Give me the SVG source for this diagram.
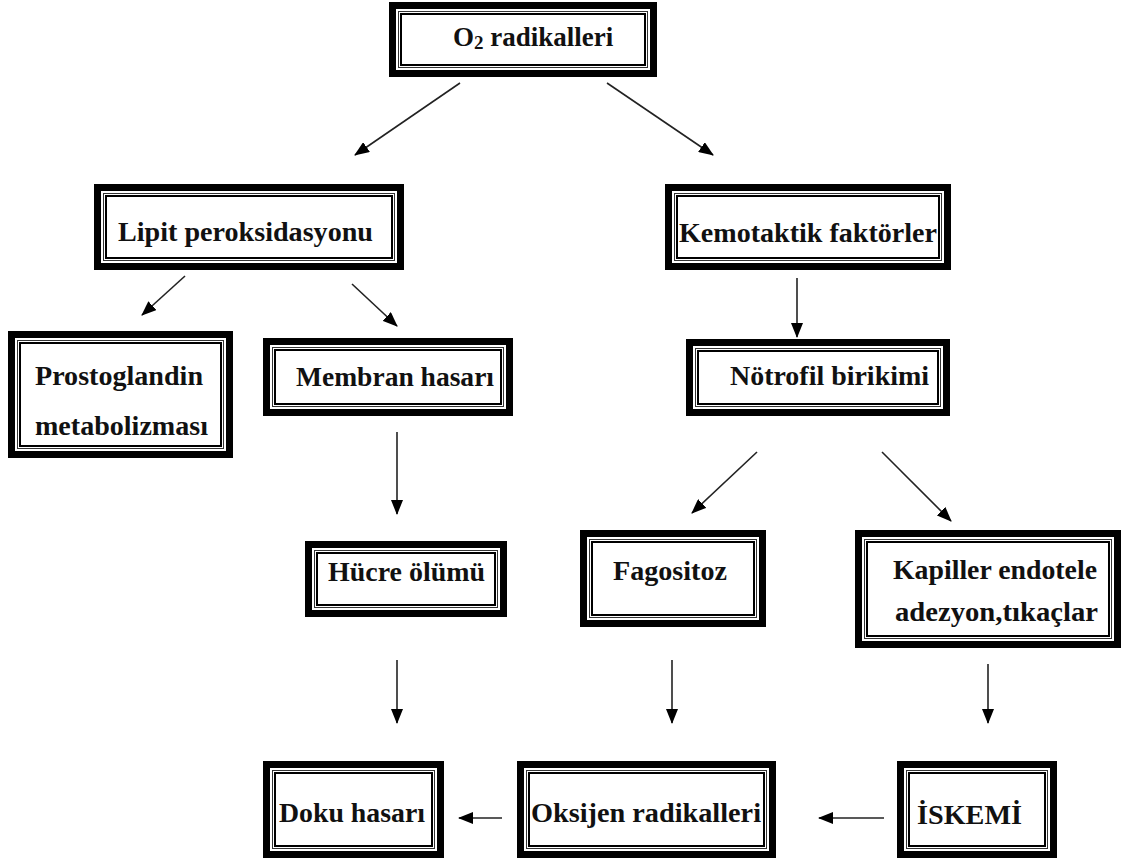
<svg xmlns="http://www.w3.org/2000/svg" width="1125" height="862" viewBox="0 0 1125 862">
<style>
.o{fill:#fff;stroke:#000;stroke-width:7}
.m{fill:none;stroke:#333;stroke-width:1}
.i{fill:none;stroke:#000;stroke-width:2}
text{font-family:"Liberation Serif","Times New Roman",serif;font-weight:bold;font-size:27px;fill:#111}
.c line{stroke:#222;stroke-width:1.6;marker-end:url(#ah)}
</style>
<defs>
<marker id="ah" markerUnits="userSpaceOnUse" markerWidth="15" markerHeight="12" viewBox="0 0 15 12" refX="14" refY="6" orient="auto">
<path d="M0,0 L15,6 L0,12 z" fill="#000"/>
</marker>
</defs>
<rect width="1125" height="862" fill="#fff"/>
<g class="c" id="connectors">
<line x1="460" y1="83" x2="355" y2="155"/>
<line x1="607" y1="83" x2="713" y2="155"/>
<line x1="185" y1="276" x2="142" y2="315"/>
<line x1="352" y1="284" x2="397" y2="326"/>
<line x1="797" y1="278" x2="797" y2="337"/>
<line x1="397" y1="432" x2="397" y2="514"/>
<line x1="757" y1="452" x2="692" y2="513"/>
<line x1="882" y1="452" x2="951" y2="521"/>
<line x1="397" y1="660" x2="397" y2="723"/>
<line x1="672" y1="660" x2="672" y2="723"/>
<line x1="988" y1="664" x2="988" y2="723"/>
<line x1="502" y1="818" x2="459" y2="818"/>
<line x1="884" y1="818" x2="819" y2="818"/>
</g>
<g id="n-o2">
<rect class="o" x="392.5" y="5.5" width="261" height="68"/><rect class="m" x="398.5" y="11.5" width="249" height="56"/><rect class="i" x="401" y="14" width="244" height="51"/>
<text x="453" y="46">O<tspan font-size="19" dy="3">2</tspan><tspan dy="-3"> radikalleri</tspan></text>
</g>
<g id="n-lipit">
<rect class="o" x="97.5" y="187.5" width="303" height="79"/><rect class="m" x="103.5" y="193.5" width="291" height="67"/><rect class="i" x="106" y="196" width="286" height="62"/>
<text x="118" y="241" textLength="255" lengthAdjust="spacingAndGlyphs">Lipit peroksidasyonu</text>
</g>
<g id="n-kemo">
<rect class="o" x="668.5" y="187.5" width="279" height="79"/><rect class="m" x="674.5" y="193.5" width="267" height="67"/><rect class="i" x="677" y="196" width="262" height="62"/>
<text x="679" y="242" textLength="258" lengthAdjust="spacingAndGlyphs">Kemotaktik faktörler</text>
</g>
<g id="n-prosto">
<rect class="o" x="11.5" y="334.5" width="218" height="120"/><rect class="m" x="17.5" y="340.5" width="206" height="108"/><rect class="i" x="20" y="343" width="201" height="103"/>
<text x="35" y="385" textLength="168" lengthAdjust="spacingAndGlyphs">Prostoglandin</text>
<text x="35" y="435" textLength="173" lengthAdjust="spacingAndGlyphs">metabolizması</text>
</g>
<g id="n-membran">
<rect class="o" x="266.5" y="341.5" width="243" height="71"/><rect class="m" x="272.5" y="347.5" width="231" height="59"/><rect class="i" x="275" y="350" width="226" height="54"/>
<text x="296" y="386" textLength="198" lengthAdjust="spacingAndGlyphs">Membran hasarı</text>
</g>
<g id="n-notrofil">
<rect class="o" x="689.5" y="342.5" width="257" height="70"/><rect class="m" x="695.5" y="348.5" width="245" height="58"/><rect class="i" x="698" y="351" width="240" height="53"/>
<text x="730" y="385" textLength="199" lengthAdjust="spacingAndGlyphs">Nötrofil birikimi</text>
</g>
<g id="n-hucre">
<rect class="o" x="308.5" y="544.5" width="195" height="69"/><rect class="m" x="314.5" y="550.5" width="183" height="57"/><rect class="i" x="317" y="553" width="178" height="52"/>
<text x="328" y="581" textLength="157" lengthAdjust="spacingAndGlyphs">Hücre ölümü</text>
</g>
<g id="n-fago">
<rect class="o" x="583.5" y="533.5" width="179" height="90"/><rect class="m" x="589.5" y="539.5" width="167" height="78"/><rect class="i" x="592" y="542" width="162" height="73"/>
<text x="613" y="580" textLength="114" lengthAdjust="spacingAndGlyphs">Fagositoz</text>
</g>
<g id="n-kapiller">
<rect class="o" x="858.5" y="533.5" width="259" height="111"/><rect class="m" x="864.5" y="539.5" width="247" height="99"/><rect class="i" x="867" y="542" width="242" height="94"/>
<text x="893" y="579" textLength="204" lengthAdjust="spacingAndGlyphs">Kapiller endotele</text>
<text x="895" y="621" textLength="203" lengthAdjust="spacingAndGlyphs">adezyon,tıkaçlar</text>
</g>
<g id="n-doku">
<rect class="o" x="266.5" y="764.5" width="174" height="90"/><rect class="m" x="272.5" y="770.5" width="162" height="78"/><rect class="i" x="275" y="773" width="157" height="73"/>
<text x="279" y="822" textLength="146" lengthAdjust="spacingAndGlyphs">Doku hasarı</text>
</g>
<g id="n-oksijen">
<rect class="o" x="520.5" y="764.5" width="252" height="90"/><rect class="m" x="526.5" y="770.5" width="240" height="78"/><rect class="i" x="529" y="773" width="235" height="73"/>
<text x="531" y="822" textLength="230" lengthAdjust="spacingAndGlyphs">Oksijen radikalleri</text>
</g>
<g id="n-iskemi">
<rect class="o" x="900.5" y="764.5" width="153" height="90"/><rect class="m" x="906.5" y="770.5" width="141" height="78"/><rect class="i" x="909" y="773" width="136" height="73"/>
<text x="917" y="824" textLength="105" lengthAdjust="spacingAndGlyphs">İSKEMİ</text>
</g>
</svg>
